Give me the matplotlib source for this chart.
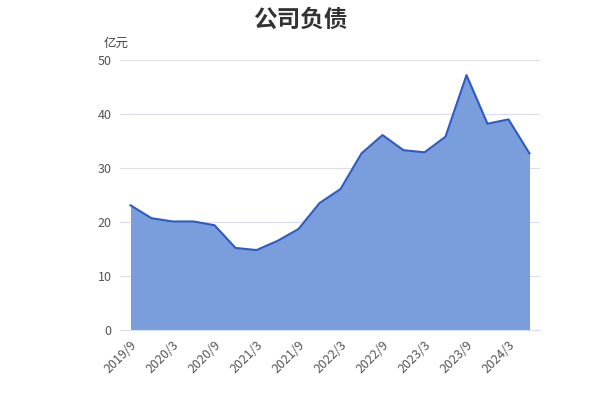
import matplotlib.pyplot as plt

plt.rcParams['font.family'] = ['Noto Sans CJK SC', 'DejaVu Sans']

quarters = ["2019/9", "2019/12", "2020/3", "2020/6", "2020/9", "2020/12",
            "2021/3", "2021/6", "2021/9", "2021/12", "2022/3", "2022/6",
            "2022/9", "2022/12", "2023/3", "2023/6", "2023/9", "2023/12",
            "2024/3", "2024/6"]
debt = [23.1, 20.7, 20.1, 20.1, 19.4, 15.2, 14.8, 16.5, 18.7, 23.5,
        26.1, 32.7, 36.1, 33.3, 32.9, 35.8, 47.2, 38.2, 39.0, 32.7]

fig = plt.figure(figsize=(6, 4), dpi=100)
ax = fig.add_axes([0.2, 0.175, 0.7, 0.675])

x = list(range(len(quarters)))
ax.fill_between(x, debt, 0, color="#7a9edb", linewidth=0)
ax.plot(x, debt, color="#2a5bc8", linewidth=1.5)

ax.set_xlim(-0.5, len(quarters) - 0.5)
ax.set_ylim(0, 50)
ax.set_yticks([0, 10, 20, 30, 40, 50])
ax.set_xticks(x[::2])
ax.set_xticklabels(quarters[::2], rotation=45, ha="right", rotation_mode="anchor")
ax.tick_params(axis="both", length=0, labelsize=9, colors="#555555", pad=6)
ax.grid(axis="y", color="#dcdcf0", linewidth=0.8)
ax.set_axisbelow(True)
for side in ["top", "right", "left"]:
    ax.spines[side].set_visible(False)
ax.spines["bottom"].set_color("#dcdcf0")

ax.text(-0.04, 1.05, "亿元", transform=ax.transAxes, fontsize=9, color="#444444")
fig.text(0.5, 0.95, "公司负债", ha="center", va="center", fontsize=17,
         fontweight="bold", color="#333333")

fig.savefig("out.png")
